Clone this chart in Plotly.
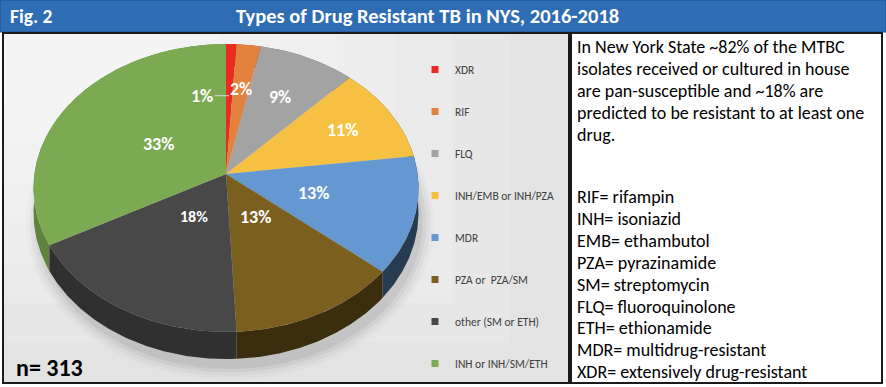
import numpy as np
import plotly.graph_objects as go

# ---------------- data ----------------
CATEGORIES = ["XDR", "RIF", "FLQ", "INH/EMB or INH/PZA", "MDR",
              "PZA or  PZA/SM", "other (SM or ETH)", "INH or INH/SM/ETH"]
COUNTS = [3, 7, 28, 34, 41, 41, 56, 103]
TOTAL_N = 313
FIG_LABEL = "Fig. 2"
TITLE = "Types of Drug Resistant TB in NYS, 2016-2018"
NOTE_LINES = ["In New York State ~82% of the MTBC",
              "isolates received or cultured in house",
              "are pan-susceptible and ~18% are",
              "predicted to be resistant to at least one",
              "drug."]
ABBREV_LINES = ["RIF= rifampin", "INH= isoniazid", "EMB= ethambutol",
                "PZA= pyrazinamide", "SM= streptomycin", "FLQ= fluoroquinolone",
                "ETH= ethionamide", "MDR= multidrug-resistant",
                "XDR= extensively drug-resistant"]

# ---------------- style ----------------
COLORS = ["#EC2A1F", "#E3823D", "#A3A3A3", "#F6C143", "#6598D0",
          "#7A5F1F", "#484848", "#7CAA52"]
LABEL_RADIUS = [0.58, 0.64, 0.64, 0.70, 0.47, 0.33, 0.33, 0.42]
LABEL_SIZE = [18, 18, 18, 18, 18, 18, 16, 18]
FONT = "Carlito, Lato, 'Open Sans', sans-serif"
W, H = 886, 387
HEADER_BLUE = "#2E6CB4"

# pie geometry (pixel space)
CX, CY = 226.0, 174.0      # apex of the slices
RX, RY = 191.6, 142.6      # top face radii
PERSP = 0.097              # perspective factor (back compressed)
DEPTH = 24.5               # thickness of the pie


def shade(hex_color, f):
    h = hex_color.lstrip("#")
    r, g, b = (int(h[i:i + 2], 16) for i in (0, 2, 4))
    return "#%02x%02x%02x" % (int(r * f), int(g * f), int(b * f))


def proj(theta, frac=1.0, drop=0.0):
    w = 1.0 + PERSP * frac * np.cos(theta)
    x = CX + RX * frac * np.sin(theta) / w
    y = CY - RY * frac * np.cos(theta) / w + drop / w
    return x, y


fig = go.Figure()

total = float(sum(COUNTS))
fractions = [c / total for c in COUNTS]
bounds = np.concatenate([[0.0], np.cumsum(fractions)]) * 2 * np.pi

# soft shadow under the pie
full = np.linspace(0, 2 * np.pi, 240)
for sc, op in [(1.06, 0.02), (1.04, 0.03), (1.02, 0.045), (1.0, 0.055)]:
    sx, sy = proj(full, 1.0, DEPTH)
    sx = CX + (sx - CX) * sc + 4
    sy = (CY + 14) + (sy - (CY + 14)) * sc + 10
    fig.add_trace(go.Scatter(x=sx, y=sy, mode="lines", fill="toself",
                             line=dict(width=0), fillcolor="rgba(0,0,0,%s)" % op,
                             hoverinfo="skip", showlegend=False))

# side walls (back to front), lit from the left
order = sorted(range(len(COUNTS)),
               key=lambda i: -np.cos((bounds[i] + bounds[i + 1]) / 2))
for i in order:
    a0, a1 = bounds[i], bounds[i + 1]
    v0, v1 = max(a0, np.pi / 2), min(a1, 1.5 * np.pi)
    vis_mid = (v0 + v1) / 2 if v1 > v0 else (a0 + a1) / 2
    factor = 0.58 - 0.2 * np.sin(vis_mid)
    t = np.linspace(a0, a1, max(4, int(np.degrees(a1 - a0) * 2)))
    xt, yt = proj(t, 1.0, 0.0)
    xb, yb = proj(t[::-1], 1.0, DEPTH)
    fig.add_trace(go.Scatter(x=np.concatenate([xt, xb, xt[:1]]),
                             y=np.concatenate([yt, yb, yt[:1]]),
                             mode="lines", fill="toself", line=dict(width=0),
                             fillcolor=shade(COLORS[i], factor),
                             legendgroup=CATEGORIES[i], showlegend=False,
                             hoverinfo="skip"))

# top faces
for i in range(len(COUNTS)):
    t = np.linspace(bounds[i], bounds[i + 1], max(4, int(np.degrees(bounds[i + 1] - bounds[i]) * 2)))
    xt, yt = proj(t, 1.0, 0.0)
    fig.add_trace(go.Scatter(x=np.concatenate([[CX], xt, [CX]]),
                             y=np.concatenate([[CY], yt, [CY]]),
                             mode="lines", fill="toself", line=dict(width=0),
                             fillcolor=COLORS[i], name=CATEGORIES[i],
                             legendgroup=CATEGORIES[i], showlegend=False,
                             hovertemplate="%s: %d<extra></extra>" % (CATEGORIES[i], COUNTS[i])))

# legend entries
for i, cat in enumerate(CATEGORIES):
    fig.add_trace(go.Scatter(x=[None], y=[None], mode="markers",
                             marker=dict(symbol="square", size=7, color=COLORS[i]),
                             name=cat, legendgroup=cat, showlegend=True))

annotations = []
# percentage labels
for i, c in enumerate(COUNTS):
    mid = (bounds[i] + bounds[i + 1]) / 2
    lx, ly = proj(mid, LABEL_RADIUS[i], 0.0)
    pct = "<b>%d%%</b>" % round(100 * c / total)
    font = dict(family=FONT, size=LABEL_SIZE[i], color="white")
    if i == 0:
        annotations.append(dict(x=lx, y=ly, xref="x", yref="y", text=pct,
                                showarrow=True, arrowhead=0, arrowwidth=1,
                                arrowcolor="#D9D9D9", ax=-27, ay=0,
                                font=font, standoff=0))
    else:
        annotations.append(dict(x=lx, y=ly, xref="x", yref="y", text=pct,
                                showarrow=False, font=font))

# header texts
annotations.append(dict(x=8, y=16, xref="x", yref="y", text="<b>%s</b>" % FIG_LABEL,
                        xanchor="left", showarrow=False,
                        font=dict(family=FONT, size=19.5, color="white")))
annotations.append(dict(x=427, y=16, xref="x", yref="y", text="<b>%s</b>" % TITLE,
                        xanchor="center", showarrow=False,
                        font=dict(family=FONT, size=20.5, color="white")))
# n label
annotations.append(dict(x=14, y=367, xref="x", yref="y", text="<b>n= %d</b>" % TOTAL_N,
                        xanchor="left", showarrow=False,
                        font=dict(family=FONT, size=24, color="black")))
# right panel text
for j, line in enumerate(NOTE_LINES):
    annotations.append(dict(x=575, y=47 + 22 * j, xref="x", yref="y", text=line,
                            xanchor="left", showarrow=False,
                            font=dict(family=FONT, size=18, color="black")))
for j, line in enumerate(ABBREV_LINES):
    annotations.append(dict(x=575, y=197 + 21.9 * j, xref="x", yref="y", text=line,
                            xanchor="left", showarrow=False,
                            font=dict(family=FONT, size=18, color="black")))

shapes = []
# header bar
shapes.append(dict(type="rect", xref="x", yref="y", x0=0, y0=0, x1=W, y1=32,
                   fillcolor=HEADER_BLUE, line=dict(width=1, color="#1F4E8C"), layer="below"))
# left panel background with soft gradient
shapes.append(dict(type="rect", xref="x", yref="y", x0=3, y0=33, x1=569, y1=383,
                   fillcolor="#DEDEDE", line=dict(width=0), layer="below"))
for k in range(8):
    shapes.append(dict(type="rect", xref="x", yref="y", x0=3, y0=33,
                       x1=569 - 58 * k, y1=383 - 40 * k,
                       fillcolor="rgba(255,255,255,0.15)", line=dict(width=0), layer="below"))
shapes.append(dict(type="rect", xref="x", yref="y", x0=3, y0=33, x1=569, y1=383,
                   fillcolor="rgba(0,0,0,0)", line=dict(width=2, color="#1A1A1A"), layer="above"))
# right panel
shapes.append(dict(type="rect", xref="x", yref="y", x0=571, y0=33, x1=882, y1=383,
                   fillcolor="white", line=dict(width=2, color="#1A1A1A"), layer="below"))

fig.update_layout(
    width=W, height=H,
    margin=dict(l=0, r=0, t=0, b=0),
    paper_bgcolor="white", plot_bgcolor="white",
    xaxis=dict(range=[0, W], visible=False, fixedrange=True),
    yaxis=dict(range=[H, 0], visible=False, fixedrange=True),
    shapes=shapes, annotations=annotations,
    showlegend=True,
    legend=dict(x=415 / W, y=1 - 55 / H, xanchor="left", yanchor="top",
                bgcolor="rgba(0,0,0,0)", traceorder="grouped",
                tracegroupgap=23, itemwidth=30,
                font=dict(family=FONT, size=11.5, color="#404040")),
)

fig.write_html("out.html", config={"displayModeBar": False},
               post_script="document.body.style.margin='0';")
